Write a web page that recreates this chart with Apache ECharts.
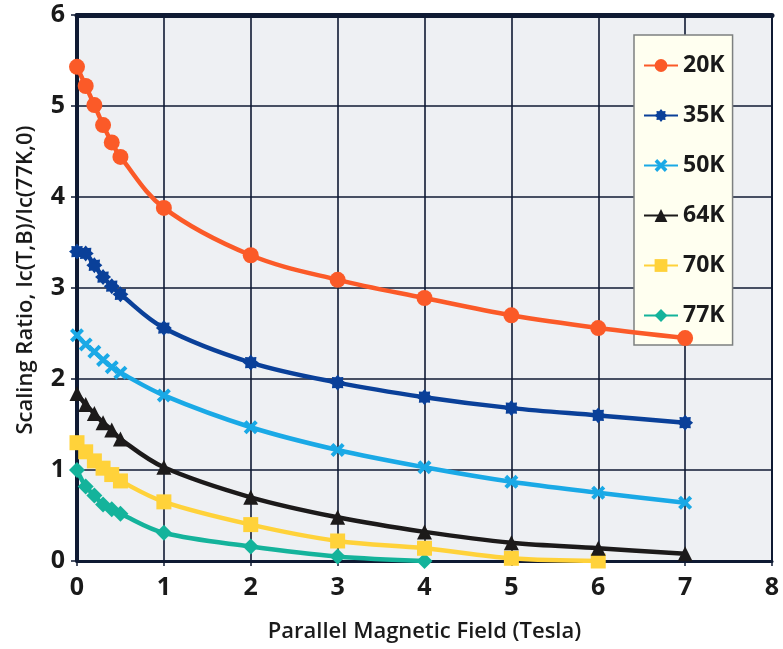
<!DOCTYPE html>
<html>
<head>
<meta charset="utf-8">
<script src="https://cdn.jsdelivr.net/npm/echarts@6/dist/echarts.min.js"></script>
<style>html,body{margin:0;padding:0;background:#fff;}#c{width:783px;height:649px;}</style>
</head>
<body>
<div id="c"></div>
<script>
const xTicks = [0,1,2,3,4,5,6,7,8];
const yTicks = [0,1,2,3,4,5,6];
const seriesNames = ['20K','35K','50K','64K','70K','77K'];
const xField = [0,0.1,0.2,0.3,0.4,0.5,1,2,3,4,5,6,7];
const k20 = [5.43,5.22,5.01,4.79,4.60,4.44,3.88,3.36,3.09,2.89,2.70,2.56,2.45];
const k35 = [3.40,3.38,3.25,3.12,3.02,2.93,2.56,2.18,1.96,1.80,1.68,1.60,1.52];
const k50 = [2.48,2.38,2.30,2.21,2.13,2.07,1.82,1.47,1.22,1.03,0.87,0.75,0.64];
const k64 = [1.84,1.72,1.62,1.52,1.44,1.34,1.03,0.70,0.48,0.32,0.20,0.14,0.08];
const xField70 = [0,0.1,0.2,0.3,0.4,0.5,1,2,3,4,5,6];
const k70 = [1.30,1.20,1.10,1.02,0.95,0.88,0.65,0.40,0.22,0.14,0.03,0.00];
const xField77 = [0,0.1,0.2,0.3,0.4,0.5,1,2,3,4];
const k77 = [1.00,0.82,0.72,0.62,0.57,0.52,0.31,0.16,0.05,0.00];

const colors = ['#fb5a28','#0a4099','#1aa9e6','#1c1a1a','#ffd23a','#14b39b'];
const starPath = 'path://M50,0 L63.8,16.7 L85.4,14.6 L83.3,36.2 L100,50 L83.3,63.8 L85.4,85.4 L63.8,83.3 L50,100 L36.2,83.3 L14.6,85.4 L16.7,63.8 L0,50 L16.7,36.2 L14.6,14.6 L36.2,16.7 Z';
const xPath = 'path://M0,20 L20,0 L50,30 L80,0 L100,20 L70,50 L100,80 L80,100 L50,70 L20,100 L0,80 L30,50 Z';
const symbols = ['circle', starPath, xPath, 'triangle', 'rect', 'diamond'];
const sizes = [16, 16, 14, 15, 15, 16];

function pairs(xs, ys){ return xs.map((x,i)=>[x, ys[i]]); }
const dataSets = [pairs(xField,k20), pairs(xField,k35), pairs(xField,k50), pairs(xField,k64), pairs(xField70,k70), pairs(xField77,k77)];

const chart = echarts.init(document.getElementById('c'), null, {renderer:'canvas'});
const frame = '#0f1a33';
const tickFont = {fontFamily:'Open Sans', fontWeight:'bold', fontSize:25, color:'#1a1a1a'};
chart.setOption({
  animation:false,
  backgroundColor:'#ffffff',
  color: colors,
  grid:{left:77, right:11, top:15, bottom:88, show:true, backgroundColor:'#eef0f3', borderColor:frame, borderWidth:2, containLabel:false, outerBoundsMode:'none'},
  legend:{
    orient:'vertical', left:634, top:35,
    backgroundColor:'#fffff0', borderColor:'#7d8080', borderWidth:1.5,
    padding:[19,8,18,9], itemWidth:34, itemHeight:16, itemGap:27,
    textStyle:{fontFamily:'Open Sans', fontWeight:'bold', fontSize:23, color:'#1a1a1a', padding:[0,0,0,0]},
    data: seriesNames
  },
  xAxis:[{
    type:'value', min:0, max:8, interval:1,
    name:'Parallel Magnetic Field (Tesla)', nameLocation:'middle', nameGap:60,
    nameTextStyle:{fontFamily:'Open Sans', fontWeight:600, fontSize:22, color:'#1a1a1a'},
    axisLine:{show:true, lineStyle:{color:frame, width:3}},
    axisTick:{show:true, length:5, lineStyle:{color:frame, width:1.5}},
    axisLabel:{...tickFont, margin:14, formatter:(v)=>xTicks.includes(v)?String(v):''},
    splitLine:{show:true, lineStyle:{color:frame, width:1.6}}
  },{
    type:'value', position:'top', min:0, max:8, interval:1,
    axisLine:{show:true, lineStyle:{color:frame, width:5}},
    axisTick:{show:false}, axisLabel:{show:false}, splitLine:{show:false}
  }],
  yAxis:{
    type:'value', min:0, max:6, interval:1,
    name:'Scaling Ratio, Ic(T,B)/Ic(77K,0)', nameLocation:'middle', nameGap:40,
    nameTextStyle:{fontFamily:'Open Sans', fontWeight:600, fontSize:22, color:'#1a1a1a', padding:[0,0,0,16]},
    axisLine:{show:true, lineStyle:{color:frame, width:4}},
    axisTick:{show:true, length:6, lineStyle:{color:frame, width:1.5}},
    axisLabel:{...tickFont, margin:12, formatter:(v)=>yTicks.includes(v)?String(v):''},
    splitLine:{show:true, lineStyle:{color:frame, width:1.6}}
  },
  series: seriesNames.map((n,i)=>({
    name:n, type:'line', data:dataSets[i], smooth:0.35,
    symbol:symbols[i], symbolSize:sizes[i], showAllSymbol:true,
    lineStyle:{width:4.5, color:colors[i]},
    itemStyle:{color:colors[i]},
    z: 10 - i
  }))
});
</script>
</body>
</html>
